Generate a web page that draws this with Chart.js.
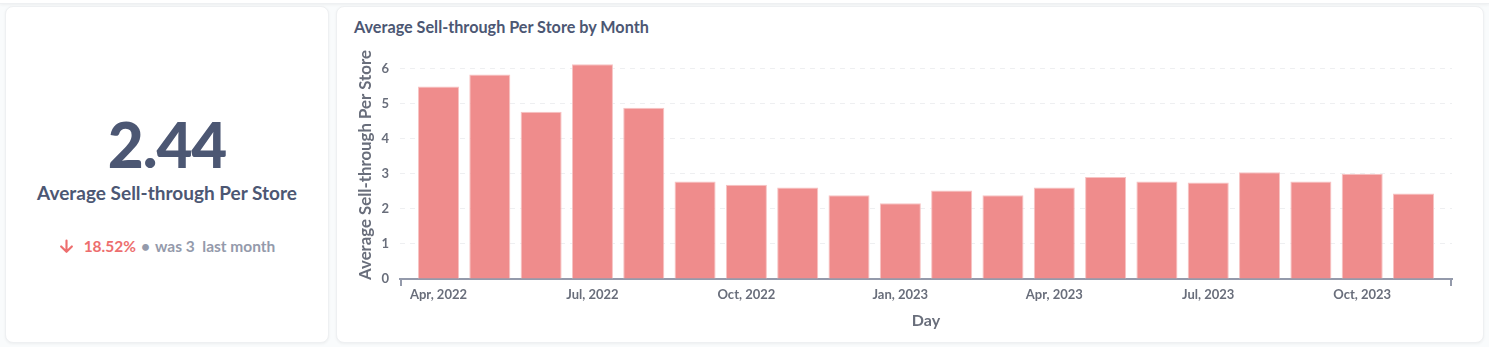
<!DOCTYPE html>
<html>
<head>
<meta charset="utf-8">
<script src="https://cdn.jsdelivr.net/npm/chart.js@4"></script>
<style>
  html, body { margin: 0; padding: 0; }
  body { width: 1489px; height: 347px; background: #f9fbfc; position: relative; overflow: hidden; font-family: Lato, sans-serif; }
  .card { position: absolute; background: #fff; border-radius: 8px; border: 1px solid #eef0f2; box-shadow: 0 1px 3px rgba(0,0,0,0.05); box-sizing: border-box; }
  .above { position: absolute; left: 0; right: 0; top: -20px; height: 23px; background: #fff; border-bottom: 1px solid #eef0f2; box-shadow: 0 1px 3px rgba(0,0,0,0.05); }
  #scalar { left: 5px; top: 6px; width: 324px; height: 337px; }
  #bars { left: 336px; top: 6px; width: 1148px; height: 337px; }
  .big { position: absolute; left: 0; width: 100%; text-align: center; top: 106px; font-size: 62px; line-height: 62px; font-weight: 900; color: #4c5773; letter-spacing: -1px; }
  .label { position: absolute; left: 0; width: 100%; text-align: center; top: 176px; font-size: 19px; line-height: 19px; font-weight: 700; color: #4c5773; }
  .change { position: absolute; left: 0; width: 100%; top: 232px; display: flex; justify-content: center; align-items: center; font-size: 15.5px; line-height: 15px; font-weight: 700; color: #949aab; }
  .change .pct { color: #ed6e6e; margin-left: 10px; }
  .change .dot { margin: 0 5px; }
  .title { position: absolute; left: 17px; top: 12px; font-size: 16.2px; line-height: 16px; font-weight: 700; color: #4c5773; }
  #wrap { position: absolute; left: -1px; top: 33px; width: 1148px; height: 294px; }
</style>
</head>
<body>
<div class="above"></div>
<div class="card" id="scalar">
  <div class="big">2.44</div>
  <div class="label">Average Sell-through Per Store</div>
  <div class="change">
    <svg width="15" height="15" viewBox="0 0 14 14"><path d="M7 1.5 V12 M2 7 L7 12 L12 7" stroke="#ed6e6e" stroke-width="2" fill="none" stroke-linecap="round" stroke-linejoin="round"/></svg>
    <span class="pct">18.52%</span><span class="dot">•</span><span>was 3&nbsp;&nbsp;last month</span>
  </div>
</div>
<div class="card" id="bars">
  <div class="title">Average Sell-through Per Store by Month</div>
  <div id="wrap"><canvas id="chart"></canvas></div>
</div>
<script>
const months = ['Apr, 2022', 'May, 2022', 'Jun, 2022', 'Jul, 2022', 'Aug, 2022', 'Sep, 2022',
  'Oct, 2022', 'Nov, 2022', 'Dec, 2022', 'Jan, 2023', 'Feb, 2023', 'Mar, 2023',
  'Apr, 2023', 'May, 2023', 'Jun, 2023', 'Jul, 2023', 'Aug, 2023', 'Sep, 2023',
  'Oct, 2023', 'Nov, 2023'];
const sellThrough = [5.49, 5.83, 4.77, 6.12, 4.88, 2.78, 2.69, 2.61, 2.39, 2.16,
  2.52, 2.39, 2.61, 2.91, 2.78, 2.75, 3.04, 2.78, 3.00, 2.44];
const xTickMonths = ['Apr, 2022', 'Jul, 2022', 'Oct, 2022', 'Jan, 2023', 'Apr, 2023', 'Jul, 2023', 'Oct, 2023'];
const yTicks = [0, 1, 2, 3, 4, 5, 6];

Chart.defaults.font.family = 'Lato, sans-serif';
Chart.defaults.font.weight = 'bold';

// little end caps on the x axis line
const axisCaps = {
  id: 'axisCaps',
  afterDraw(chart) {
    const { ctx, chartArea } = chart;
    ctx.save();
    ctx.strokeStyle = '#949aab';
    ctx.lineWidth = 2;
    ctx.beginPath();
    ctx.moveTo(chartArea.left + 1, chartArea.bottom);
    ctx.lineTo(chartArea.left + 1, chartArea.bottom + 7);
    ctx.moveTo(chartArea.right - 1, chartArea.bottom);
    ctx.lineTo(chartArea.right - 1, chartArea.bottom + 7);
    ctx.stroke();
    ctx.restore();
  }
};

const ctx = document.getElementById('chart').getContext('2d');
const chart = new Chart(ctx, {
  type: 'bar',
  data: {
    datasets: [{
      data: sellThrough.map((v, i) => ({ x: i, y: v })),
      backgroundColor: '#ef8c8c',
      borderColor: '#f7c3c3',
      borderWidth: 1,
      borderSkipped: 'start',
      barPercentage: 0.8,
      categoryPercentage: 1
    }]
  },
  options: {
    responsive: true,
    maintainAspectRatio: false,
    animation: false,
    layout: { padding: { left: 16, right: 32, top: 11, bottom: 0 } },
    plugins: { legend: { display: false }, tooltip: { enabled: false } },
    scales: {
      x: {
        type: 'linear',
        offset: false,
        min: -0.75,
        max: months.length - 0.25,
        grid: { display: false, drawTicks: false, offset: false },
        border: { display: true, color: '#949aab', width: 2 },
        afterBuildTicks: s => { s.ticks = xTickMonths.map(m => ({ value: months.indexOf(m) })); },
        afterFit: s => { s.height = 55; s.paddingLeft = 0; s.paddingRight = 0; },
        ticks: {
          autoSkip: false,
          maxRotation: 0,
          padding: 8,
          color: '#696e7b',
          font: { size: 13, weight: 'bold' },
          callback: v => months[v]
        },
        title: {
          display: true,
          text: 'Day',
          color: '#696e7b',
          font: { size: 16, weight: 'bold' }
        }
      },
      y: {
        min: 0,
        max: 6.5,
        grid: { color: '#eeeff1', drawTicks: false },
        border: { display: false, dash: [5, 5] },
        afterBuildTicks: s => { s.ticks = yTicks.map(v => ({ value: v })); },
        afterFit: s => { s.width = 48; s.paddingTop = 0; s.paddingBottom = 0; },
        ticks: {
          padding: 11,
          color: '#696e7b',
          font: { size: 13, weight: 'bold' }
        },
        title: {
          display: true,
          text: 'Average Sell-through Per Store',
          color: '#696e7b',
          font: { size: 16.8, weight: 'bold' }
        }
      }
    }
  },
  plugins: [axisCaps]
});
</script>
</body>
</html>
